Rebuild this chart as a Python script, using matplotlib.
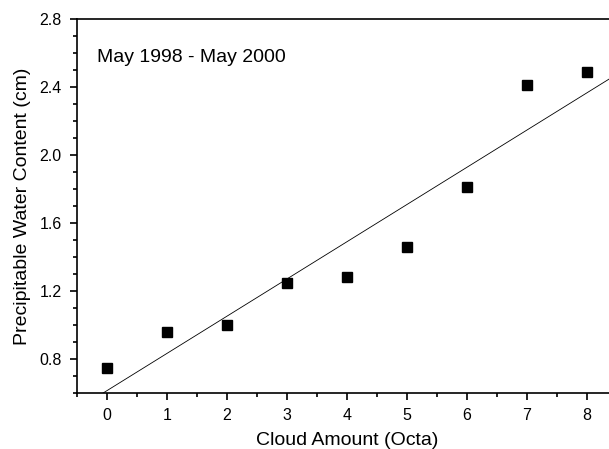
import numpy as np
import matplotlib.pyplot as plt
from matplotlib.ticker import MultipleLocator

plt.rcParams['font.family'] = ['Liberation Sans', 'DejaVu Sans']

cloud = [0, 1, 2, 3, 4, 5, 6, 7, 8]
pwc = [0.75, 0.96, 1.00, 1.25, 1.28, 1.46, 1.81, 2.41, 2.49]

fig = plt.figure(figsize=(6.09, 4.49), dpi=100)
ax = fig.add_axes([77 / 609, 56 / 449, 540 / 609, 374 / 449])

# linear fit
slope, icpt = np.polyfit(cloud, pwc, 1)
xs = np.array([-0.5, 8.5])
ax.plot(xs, icpt + slope * xs, color='black', lw=0.6)

ax.plot(cloud, pwc, 's', color='black', ms=6.8)

ax.set_xlim(-0.5, 8.5)
ax.set_ylim(0.6, 2.8)
ax.xaxis.set_major_locator(MultipleLocator(1))
ax.xaxis.set_minor_locator(MultipleLocator(0.5))
ax.yaxis.set_major_locator(MultipleLocator(0.4))
ax.yaxis.set_minor_locator(MultipleLocator(0.1))
ax.yaxis.set_major_formatter(plt.FormatStrFormatter('%.1f'))
ax.tick_params(which='both', direction='out', top=False, right=False, width=1.2)
ax.tick_params(which='major', length=5, labelsize=11.5, pad=6)
ax.tick_params(which='minor', length=3)
for s in ax.spines.values():
    s.set_linewidth(1.2)

ax.set_xlabel('Cloud Amount (Octa)', fontsize=14, labelpad=6)
ax.set_ylabel('Precipitable Water Content (cm)', fontsize=14, labelpad=6)
fig.text(97 / 609, 1 - 58 / 449, 'May 1998 - May 2000', fontsize=14, va='center')

fig.savefig('out.png', dpi=100)
